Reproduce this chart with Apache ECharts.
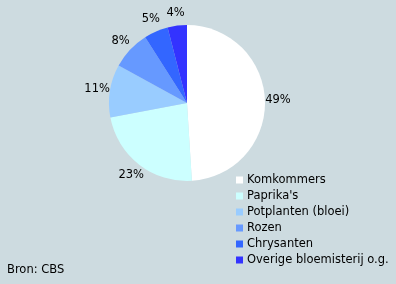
<!DOCTYPE html>
<html><head><meta charset="utf-8">
<script src="https://cdn.jsdelivr.net/npm/echarts@6/dist/echarts.min.js"></script>
<style>html,body{margin:0;padding:0;background:#cddbe0;}#c{width:396px;height:284px;}</style>
</head><body><div id="c"></div>
<script>
var categories = ["Komkommers", "Paprika's", "Potplanten (bloei)", "Rozen", "Chrysanten", "Overige bloemisterij o.g."];
var values = [49, 23, 11, 8, 5, 4];
var colors = ["#ffffff", "#ccffff", "#99ccff", "#6699ff", "#3366ff", "#3333ff"];
var source = "Bron: CBS";

var font = 'DejaVu Sans';
var chart = echarts.init(document.getElementById('c'));
chart.setOption({
  backgroundColor: '#cddbe0',
  animation: false,
  textStyle: {fontFamily: font},
  title: {text: source, left: 7, top: 263, padding: 0, textStyle: {fontSize: 11.5, lineHeight: 14, fontWeight: 'normal', color: '#000', fontFamily: font}},
  legend: {
    orient: 'vertical', left: 236, top: 173, padding: 0, itemWidth: 7, itemHeight: 7, itemGap: 2, icon: 'rect',
    selectedMode: false,
    textStyle: {fontSize: 11.5, lineHeight: 14, color: '#000', fontFamily: font, padding: [0, 0, 0, -1]},
    data: categories
  },
  series: [{
    type: 'pie', center: [187, 103], radius: 78, startAngle: 90, clockwise: true,
    label: {show: false},
    labelLine: {show: false},
    emphasis: {disabled: true}, silent: true,
    data: categories.map(function (n, i) { return {name: n, value: values[i], itemStyle: {color: colors[i]}}; })
  }, {
    type: 'pie', center: [187, 103], radius: [0, 176], startAngle: 90, clockwise: true,
    itemStyle: {color: 'rgba(0,0,0,0)'},
    label: {show: true, position: 'inside', formatter: '{c}%', fontSize: 11.5, color: '#000', fontFamily: font},
    labelLine: {show: false},
    emphasis: {disabled: true}, silent: true, z: 3,
    data: categories.map(function (n, i) { return {name: n, value: values[i]}; })
  }]
});
</script></body></html>
